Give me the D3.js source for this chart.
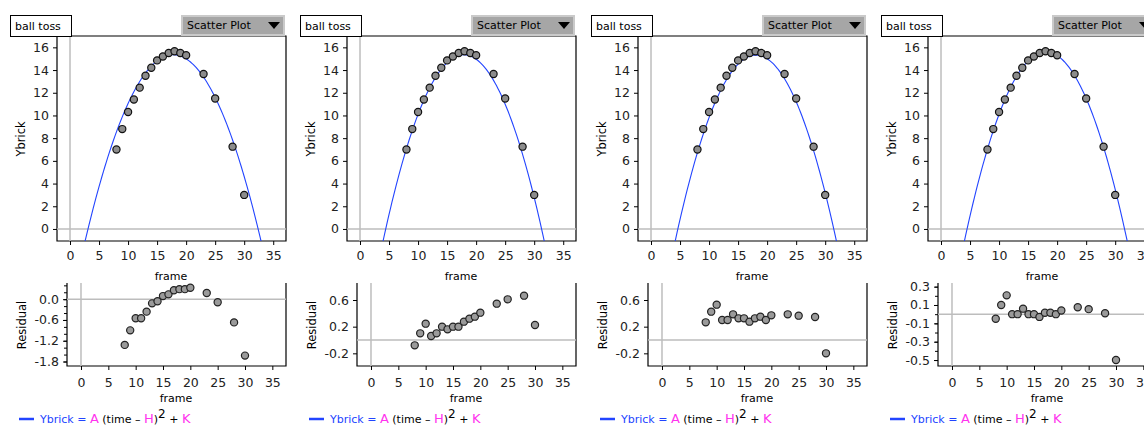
<!DOCTYPE html>
<html>
<head>
<meta charset="utf-8">
<script src="https://cdn.jsdelivr.net/npm/d3@7"></script>
<style>
	body { margin: 0; background: #fff; }
	text { font-family: "DejaVu Sans", sans-serif; }
</style>
</head>
<body>
<main></main>
<script>
// data
const frames = [8, 9, 10, 11, 12, 13, 14, 15, 16, 17, 18, 19, 20, 23, 25, 28, 30];
const ybrick = [7.0, 8.8, 10.3, 11.4, 12.45, 13.5, 14.2, 14.85, 15.2, 15.5, 15.65, 15.5, 15.3, 13.65, 11.5, 7.25, 3.0];

const residuals1 = [-1.32, -0.9, -0.55, -0.55, -0.36, -0.12, -0.06, 0.09, 0.14, 0.26, 0.29, 0.29, 0.33, 0.18, -0.09, -0.67, -1.63];
const residuals2 = [-0.08, 0.10, 0.245, 0.06, 0.10, 0.20, 0.16, 0.20, 0.20, 0.275, 0.32, 0.35, 0.41, 0.545, 0.61, 0.665, 0.225];
const residuals3 = [0.265, 0.425, 0.53, 0.30, 0.30, 0.385, 0.325, 0.325, 0.275, 0.325, 0.35, 0.30, 0.37, 0.385, 0.365, 0.345, -0.2];
const residuals4 = [-0.05, 0.10, 0.205, 0.0, 0.0, 0.06, 0.0, 0.0, -0.03, 0.015, 0.015, 0.0, 0.04, 0.075, 0.055, 0.01, -0.5];
const residualSets = [residuals1, residuals2, residuals3, residuals4];

// fitted parameters, Ybrick = A (time - H)^2 + K
const fitA = [-0.0715, -0.0852, -0.085, -0.0848];
const fitH = [17.75, 17.85, 18.05, 18.05];
const fitK = [15.35, 15.35, 15.32, 15.6];

const xTicks = [0, 5, 10, 15, 20, 25, 30, 35];
const yTicks = [0, 2, 4, 6, 8, 10, 12, 14, 16];
const residTicks = [[0, -0.6, -1.2, -1.8], [0.6, 0.2, -0.2], [0.6, 0.2, -0.2], [0.3, 0.1, -0.1, -0.3, -0.5]];
const residMinor = [d3.range(-1.8, 0.41, 0.2), [], [], d3.range(-0.5, 0.31, 0.1)];
const residDomain = [[0.41, -1.93], [0.825, -0.39], [0.825, -0.39], [0.318, -0.565]];

const width = 1144;
const height = 426;
const panelX = [0, 290, 581, 871];

const blue = "#2244ff";
const magenta = "#ff33ee";
const grey = "#bdbdbd";

const svg = d3.select("main")
	.append("svg")
		.attr("width", width)
		.attr("height", height);

const fmt = d => d3.format(".1f")(d).replace("\u2212", "-");

function drawPanel(i) {
	const g = svg.append("g").attr("transform", `translate(${panelX[i]},0)`);

	// ---- top plot ----
	const xScale = d3.scaleLinear().domain([-2.24, 37.2]).range([57, 286]);
	const yScale = d3.scaleLinear().domain([-1.06, 17]).range([241, 36]);

	g.append("clipPath").attr("id", "clip" + i)
		.append("rect").attr("x", 57).attr("y", 36).attr("width", 229).attr("height", 205);

	// frame
	g.append("path")
		.attr("d", "M57,36V241H286V36H57")
		.attr("fill", "none").attr("stroke", "#000").attr("stroke-width", 1.2);

	// zero lines
	g.append("line")
		.attr("x1", xScale(0)).attr("x2", xScale(0)).attr("y1", 36).attr("y2", 241)
		.attr("stroke", grey).attr("stroke-width", 1.5);
	g.append("line")
		.attr("x1", 57).attr("x2", 286).attr("y1", yScale(0)).attr("y2", yScale(0))
		.attr("stroke", grey).attr("stroke-width", 1.5);

	const xAxis = g.append("g")
		.attr("transform", "translate(0,241)")
		.call(d3.axisBottom(xScale).tickValues(xTicks).tickSize(4).tickPadding(6));
	const yAxis = g.append("g")
		.attr("transform", "translate(57,0)")
		.call(d3.axisLeft(yScale).tickValues(yTicks).tickSize(4).tickPadding(4));
	[xAxis, yAxis].forEach(a => {
		a.select(".domain").remove();
		a.selectAll("text").attr("font-size", 12.5).attr("fill", "#222")
			.style("font-family", "'DejaVu Sans', sans-serif");
	});

	// fitted curve
	const curve = d3.range(-3, 38, 0.25).map(t => [t, fitA[i] * (t - fitH[i]) ** 2 + fitK[i]]);
	g.append("path")
		.datum(curve)
		.attr("clip-path", `url(#clip${i})`)
		.attr("fill", "none")
		.attr("stroke", blue)
		.attr("stroke-width", 1.1)
		.attr("d", d3.line().x(d => xScale(d[0])).y(d => yScale(d[1])));

	g.selectAll(".pt")
		.data(frames)
		.enter()
		.append("circle")
		.attr("cx", d => xScale(d))
		.attr("cy", (d, j) => yScale(ybrick[j]))
		.attr("r", 3.6)
		.attr("fill", "#8c8c8c")
		.attr("stroke", "#111")
		.attr("stroke-width", 1.2);

	g.append("text").attr("x", 171).attr("y", 280).attr("text-anchor", "middle")
		.attr("font-size", 11).text("frame");
	g.append("text").attr("transform", "translate(25,139) rotate(-90)").attr("text-anchor", "middle")
		.attr("font-size", 11.5).text("Ybrick");

	// title box and menu button
	g.append("rect").attr("x", 10.5).attr("y", 15.5).attr("width", 61).attr("height", 21)
		.attr("fill", "#fff").attr("stroke", "#000");
	g.append("text").attr("x", 15).attr("y", 30).attr("font-size", 11).text("ball toss");

	g.append("rect").attr("x", 182).attr("y", 16).attr("width", 102).attr("height", 19)
		.attr("fill", "#a6a6a6").attr("stroke", "#cacaca").attr("stroke-width", 2);
	g.append("text").attr("x", 187).attr("y", 29).attr("font-size", 11).text("Scatter Plot");
	g.append("path").attr("d", "M268,22H280L274,29Z").attr("fill", "#000");

	// ---- residual plot ----
	const rx = d3.scaleLinear().domain([-2.56, 37.5]).range([67, 286]);
	const ry = d3.scaleLinear().domain(residDomain[i]).range([285, 366]);

	g.append("path")
		.attr("d", "M67,283V366H286V283")
		.attr("fill", "none").attr("stroke", "#000").attr("stroke-width", 1.2);
	g.append("line")
		.attr("x1", rx(0)).attr("x2", rx(0)).attr("y1", 283).attr("y2", 366)
		.attr("stroke", grey).attr("stroke-width", 1.5);
	g.append("line")
		.attr("x1", 67).attr("x2", 286).attr("y1", ry(0)).attr("y2", ry(0))
		.attr("stroke", grey).attr("stroke-width", 1.5);

	const rxAxis = g.append("g")
		.attr("transform", "translate(0,366)")
		.call(d3.axisBottom(rx).tickValues(xTicks).tickSize(4).tickPadding(8));
	const ryMinor = g.append("g")
		.attr("transform", "translate(67,0)")
		.call(d3.axisLeft(ry).tickValues(residMinor[i]).tickSize(3).tickFormat(""));
	const ryAxis = g.append("g")
		.attr("transform", "translate(67,0)")
		.call(d3.axisLeft(ry).tickValues(residTicks[i]).tickSize(4).tickPadding(4).tickFormat(fmt));
	[rxAxis, ryMinor, ryAxis].forEach(a => {
		a.select(".domain").remove();
		a.selectAll("text").attr("font-size", 12.5).attr("fill", "#222")
			.style("font-family", "'DejaVu Sans', sans-serif");
	});

	g.selectAll(".rpt")
		.data(frames)
		.enter()
		.append("circle")
		.attr("cx", d => rx(d))
		.attr("cy", (d, j) => ry(residualSets[i][j]))
		.attr("r", 3.6)
		.attr("fill", "#9a9a9a")
		.attr("stroke", "#222")
		.attr("stroke-width", 1.2);

	g.append("text").attr("x", 176).attr("y", 402).attr("text-anchor", "middle")
		.attr("font-size", 11).text("frame");
	g.append("text").attr("transform", "translate(26,325) rotate(-90)").attr("text-anchor", "middle")
		.attr("font-size", 11.5).text("Residual");

	// legend
	g.append("line").attr("x1", 19).attr("x2", 34).attr("y1", 419).attr("y2", 419)
		.attr("stroke", blue).attr("stroke-width", 2.5);
	const leg = g.append("text").attr("x", 40).attr("y", 423).attr("font-size", 11);
	leg.append("tspan").attr("fill", blue).text("Ybrick = ");
	leg.append("tspan").attr("fill", magenta).attr("font-size", 13).text("A");
	leg.append("tspan").attr("fill", "#000").text(" (time \u2013 ");
	leg.append("tspan").attr("fill", magenta).attr("font-size", 13).text("H");
	leg.append("tspan").attr("fill", "#000").text(")");
	leg.append("tspan").attr("fill", "#000").attr("font-size", 12).attr("dy", -5).text("2");
	leg.append("tspan").attr("fill", "#000").attr("dy", 5).text(" + ");
	leg.append("tspan").attr("fill", magenta).attr("font-size", 13).text("K");
}

[0, 1, 2, 3].forEach(drawPanel);
</script>
</body>
</html>
